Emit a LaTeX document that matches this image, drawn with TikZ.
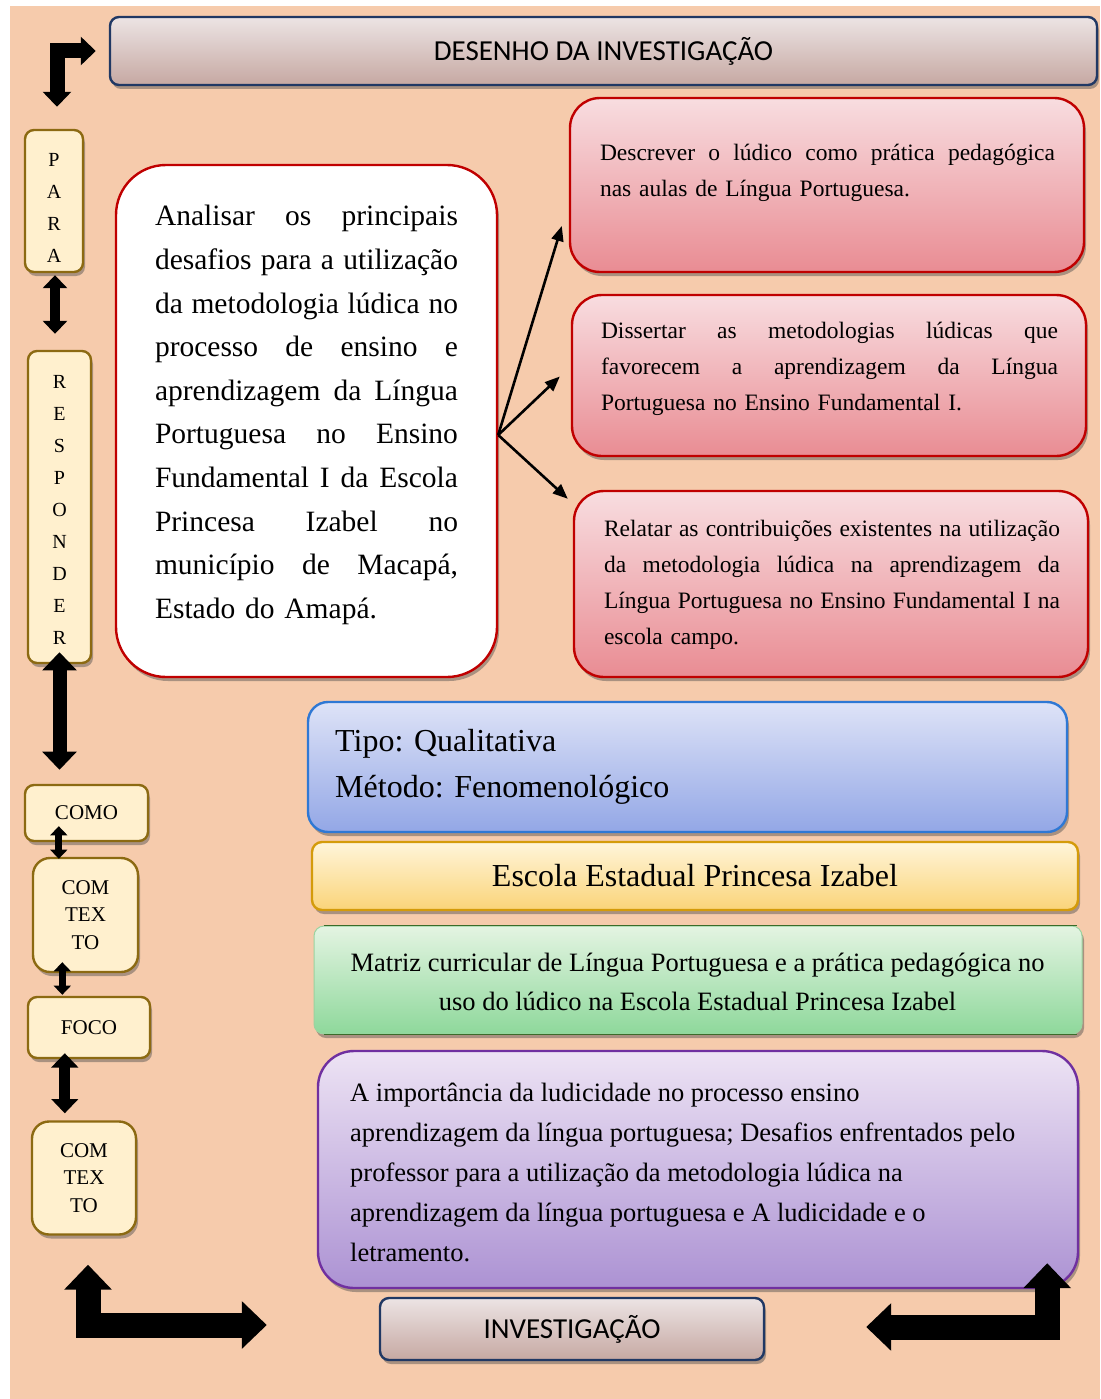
\documentclass[tikz,border=0pt]{standalone}
\usepackage{fontspec}
\setmainfont{Liberation Serif}
\newfontfamily\calibri{Carlito}
\usetikzlibrary{arrows.meta,shadows}

\definecolor{peach}{HTML}{F6CBAC}
\definecolor{navy}{HTML}{203864}
\definecolor{titletop}{HTML}{ECE4E4}
\definecolor{titlebot}{HTML}{C6A8A2}
\definecolor{redline}{HTML}{C00000}
\definecolor{redtop}{HTML}{F8DDE0}
\definecolor{redbot}{HTML}{E98C93}
\definecolor{creamfill}{HTML}{FFF0CE}
\definecolor{brownline}{HTML}{8C6A12}
\definecolor{bluetop}{HTML}{DEE3F7}
\definecolor{bluebot}{HTML}{93A7E6}
\definecolor{blueline}{HTML}{2F78D4}
\definecolor{yeltop}{HTML}{FFF5DA}
\definecolor{yelbot}{HTML}{FAD479}
\definecolor{yelline}{HTML}{D49B0A}
\definecolor{grntop}{HTML}{E4F4E2}
\definecolor{grnbot}{HTML}{8ED89B}
\definecolor{grnline}{HTML}{9BD3A0}
\definecolor{dkgreen}{HTML}{3B6B2A}
\definecolor{purtop}{HTML}{EDE3F4}
\definecolor{purbot}{HTML}{AC92D3}
\definecolor{purline}{HTML}{7030A0}

% one justified line of a given width
\newcommand{\jl}[2]{{\spaceskip=\fontdimen2\font plus 1fil\relax\makebox[#1][s]{#2}}}

\tikzset{
    box/.style 2 args={rounded corners=#1, inner sep=0pt, line width=2.4pt,
        minimum width=#2,
        drop shadow={shadow xshift=2pt, shadow yshift=-4pt, opacity=.45, fill=black!70}},
    titlebox/.style={box={9pt}{#1}, draw=navy, top color=titletop, bottom color=titlebot,
        font=\calibri\fontsize{29}{34}\selectfont},
    stepbox/.style={box={9pt}{#1}, draw=brownline, fill=creamfill, align=center,
        font=\fontsize{20}{32}\selectfont},
    ctxbox/.style={box={17pt}{#1}, draw=brownline, fill=creamfill, align=center,
        font=\fontsize{21}{27.5}\selectfont},
    redbox/.style={box={30pt}{514pt}, draw=redline, top color=redtop, bottom color=redbot},
    txt/.style={inner sep=0pt, align=left, text width=#1},
    objtxt/.style={txt=#1, font=\fontsize{23.5}{36}\selectfont},
    dbl/.style={line width=#1, >={Triangle[length=0pt 1.3, width=0pt 2.4]}, <->},
    bigL/.style={line width=#1, line join=miter, >={Triangle[length=0pt 1, width=0pt 1.85]}, <->},
    thin arrow/.style={line width=2.6pt, -{Triangle[length=15pt, width=12pt]}}
}

\begin{document}
\begin{tikzpicture}[x=1pt, y=-1pt]
    \useasboundingbox (0,0) rectangle (1100,1399);
    \fill[peach] (10,6) rectangle (1100,1399);

    % top and bottom titles
    \node[titlebox=987pt, minimum height=68pt] (title) at (603.5,51) {DESENHO DA INVESTIGAÇÃO};
    \node[titlebox=384pt, minimum height=62pt] (inv) at (572,1329) {INVESTIGAÇÃO};

    % left column
    \node[stepbox=58pt, minimum height=142pt] (para) at (54,201) {\rule{0pt}{26pt}P\\A\\R\\A};
    \node[stepbox=63pt, minimum height=312pt] (resp) at (59.5,507) {\rule{0pt}{18pt}R\\E\\S\\P\\O\\N\\D\\E\\R};
    \node[stepbox=123pt, minimum height=56pt, font=\fontsize{21}{25}\selectfont] (como) at (86.5,813) {COMO};
    \node[ctxbox=105pt, minimum height=114pt] (ctx1) at (85.5,915) {COM\\TEX\\TO};
    \node[stepbox=122pt, minimum height=61pt, font=\fontsize{21}{25}\selectfont] (foco) at (89,1027.5) {FOCO};
    \node[ctxbox=104pt, minimum height=113pt] (ctx2) at (84,1178) {COM\\TEX\\TO};

    % general objective
    \node[box={50pt}{381pt}, draw=redline, fill=white, minimum height=512pt] (main) at (306.5,421) {};
    \node[txt=303pt, font=\fontsize{29.5}{43.6}\selectfont] (maintxt) at (306.5,415)
        {\jl{303pt}{Analisar os principais}\\ \jl{303pt}{desafios para a utilização}\\
         \jl{303pt}{da metodologia lúdica no}\\ \jl{303pt}{processo de ensino e}\\
         \jl{303pt}{aprendizagem da Língua}\\ \jl{303pt}{Portuguesa no Ensino}\\
         \jl{303pt}{Fundamental I da Escola}\\ \jl{303pt}{Princesa Izabel no}\\
         \jl{303pt}{município de Macapá,}\\ Estado do Amapá.};

    % specific objectives
    \node[redbox, minimum height=174pt] (obj1) at (827,185) {};
    \node[objtxt=455pt] (obj1txt) at (827.5,172.5)
        {\jl{455pt}{Descrever o lúdico como prática pedagógica}\\ nas aulas de Língua Portuguesa.};
    \node[redbox, minimum height=161pt] (obj2) at (829,375.5) {};
    \node[objtxt=457pt] (obj2txt) at (829.5,369)
        {\jl{457pt}{Dissertar as metodologias lúdicas que}\\ \jl{457pt}{favorecem a aprendizagem da Língua}\\
         Portuguesa no Ensino Fundamental I.};
    \node[redbox, minimum height=186pt] (obj3) at (831,584) {};
    \node[objtxt=456pt] (obj3txt) at (832,585)
        {\jl{456pt}{Relatar as contribuições existentes na utilização}\\
         \jl{456pt}{da metodologia lúdica na aprendizagem da}\\
         \jl{456pt}{Língua Portuguesa no Ensino Fundamental I na}\\ escola campo.};

    \draw[thin arrow] ([yshift=-14pt]main.east) -- ([xshift=-7pt,yshift=-41pt]obj1.west);
    \draw[thin arrow] ([yshift=-14pt]main.east) -- ([xshift=-11pt,yshift=-1pt]obj2.west);
    \draw[thin arrow] ([yshift=-14pt]main.east) -- ([xshift=-5pt,yshift=-9pt]obj3.north west);

    % design boxes
    \node[box={20pt}{759pt}, draw=blueline, top color=bluetop, bottom color=bluebot,
        minimum height=130pt] (tipo) at (687.5,767) {};
    \node[inner sep=0pt, anchor=west, align=left, font=\fontsize{32}{46}\selectfont] (tipotxt)
        at (335,767) {Tipo: Qualitativa\\Método: Fenomenológico};
    \node[box={10pt}{766pt}, draw=yelline, top color=yeltop, bottom color=yelbot,
        minimum height=68pt, font=\fontsize{32}{36}\selectfont] (escola) at (695,876) {\raisebox{-2pt}{Escola Estadual Princesa Izabel}};
    \node[box={10pt}{768pt}, draw=grnline, line width=1pt, top color=grntop, bottom color=grnbot,
        minimum height=108pt] (matriz) at (698,980) {};
    \draw[dkgreen, line width=.8pt] ([xshift=10pt]matriz.north west) -- ([xshift=-6pt]matriz.north east);
    \draw[dkgreen, line width=.8pt] ([xshift=10pt]matriz.south west) -- ([xshift=-6pt]matriz.south east);
    \node[inner sep=0pt, align=center, font=\fontsize{26.5}{39}\selectfont] (matriztxt) at (697.5,982)
        {Matriz curricular de Língua Portuguesa e a prática pedagógica no\\
         uso do lúdico na Escola Estadual Princesa Izabel};
    \node[box={36pt}{760pt}, draw=purline, top color=purtop, bottom color=purbot,
        minimum height=237pt] (temas) at (698,1169.5) {};
    \node[inner sep=0pt, anchor=west, align=left, font=\fontsize{26.5}{40}\selectfont] (temastxt)
        at (350,1172) {A importância da ludicidade no processo ensino\\
         aprendizagem da língua portuguesa; Desafios enfrentados pelo\\
         professor para a utilização da metodologia lúdica na\\
         aprendizagem da língua portuguesa e A ludicidade e o\\
         letramento.};

    % connectors of the left column
    \draw[dbl=10pt, shorten <=2pt, shorten >=16pt] ([xshift=1pt]para.south) -- ([xshift=1pt]para.south |- resp.north);
    \draw[dbl=14pt, shorten <=-12pt, shorten >=14pt] (resp.south) -- (resp.south |- como.north);
    \draw[dbl=7pt, shorten <=-16pt, shorten >=-2pt] ([xshift=35pt]como.south west) -- ([xshift=35pt]como.south west |- ctx1.north);
    \draw[dbl=7pt, shorten <=-11pt, shorten >=1pt] ([xshift=30.5pt]ctx1.south west) -- ([xshift=30.5pt]ctx1.south west |- foco.north);
    \draw[dbl=11pt, shorten <=-6pt, shorten >=7pt] ([xshift=38pt]foco.south west) -- ([xshift=38pt]foco.south west |- ctx2.north);

    % corner arrows
    \coordinate (tlA) at ([xshift=3pt,yshift=22pt]para.north);
    \coordinate (tlB) at ([xshift=-13pt]title.west);
    \draw[bigL=15pt] (tlA) |- (tlB);
    \coordinate (blA) at ([xshift=4pt,yshift=-29pt]ctx2.south);
    \coordinate (blB) at ([xshift=-112pt,yshift=4pt]inv.west);
    \draw[bigL=25pt] (blA) |- (blB);
    \coordinate (brA) at ([xshift=-32pt,yshift=26pt]temas.south east);
    \coordinate (brB) at ([xshift=101pt,yshift=2pt]inv.east);
    \draw[bigL=25pt] (brA) |- (brB);
\end{tikzpicture}
\end{document}
